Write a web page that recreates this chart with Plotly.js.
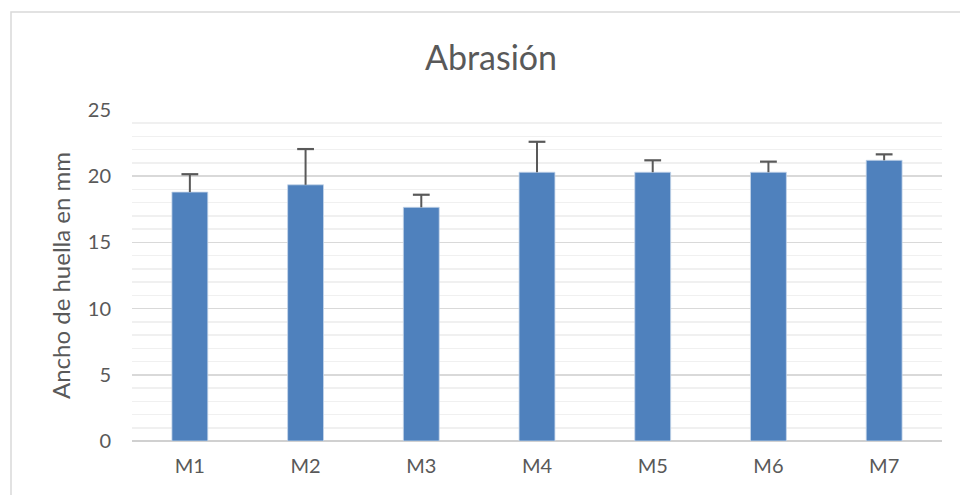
<!DOCTYPE html>
<html>
<head>
<meta charset="utf-8">
<script src="https://cdn.plot.ly/plotly-3.0.1.min.js"></script>
<style>
  html, body { margin: 0; padding: 0; background: #fff; }
  #chart { width: 960px; height: 495px; }
</style>
</head>
<body>
<div id="chart"></div>
<script>
const categories = ["M1", "M2", "M3", "M4", "M5", "M6", "M7"];
const values = [18.8, 19.35, 17.65, 20.3, 20.3, 20.3, 21.2];
const errorsPlus = [1.35, 2.7, 0.95, 2.3, 0.9, 0.8, 0.45];
const yTickVals = [0, 5, 10, 15, 20, 25];

const textColor = "#595959";
const fontFamily = "Lato, 'Open Sans', sans-serif";
const errColor = "#595959";

const barTrace = {
  type: "bar",
  x: categories,
  y: values,
  marker: { color: "#4F81BD", line: { color: "#c5d5ea", width: 0.8 } },
  error_y: {
    type: "data",
    symmetric: false,
    array: errorsPlus,
    arrayminus: errorsPlus.map(() => 0),
    color: errColor,
    thickness: 2,
    width: 0
  },
  hoverinfo: "x+y"
};

// caps on top of the (plus-only) error bars
const capTrace = {
  type: "scatter",
  mode: "markers",
  x: categories,
  y: values.map((v, i) => v + errorsPlus[i]),
  marker: { symbol: "line-ew", size: 12, line: { color: errColor, width: 2.2 } },
  hoverinfo: "skip"
};

const layout = {
  width: 960,
  height: 495,
  paper_bgcolor: "#ffffff",
  plot_bgcolor: "#ffffff",
  margin: { l: 132, r: 18, t: 110, b: 54 },
  showlegend: false,
  bargap: 0.69,
  font: { family: fontFamily, color: textColor },
  title: {
    text: "Abrasión",
    font: { family: fontFamily, size: 34, color: textColor },
    x: 491 / 960, xanchor: "center", xref: "container",
    y: 1 - 58 / 495, yanchor: "middle",
    yref: "container"
  },
  xaxis: {
    type: "category",
    showgrid: false,
    showline: false,
    zeroline: false,
    ticks: "",
    tickfont: { family: fontFamily, size: 20, color: textColor },
    ticklabelstandoff: 11
  },
  yaxis: {
    range: [0, 25],
    tickvals: yTickVals,
    ticktext: yTickVals.map(String),
    showgrid: true,
    gridcolor: "#d9d9d9",
    gridwidth: 1.5,
    zeroline: true,
    zerolinecolor: "#d0d0d0",
    zerolinewidth: 2,
    showline: false,
    ticks: "",
    tickfont: { family: fontFamily, size: 20, color: textColor },
    ticklabelstandoff: 20,
    minor: { dtick: 1, showgrid: true, gridcolor: "#f0f0f0", gridwidth: 1.5, ticks: "" },
    title: {
      text: "Ancho de huella en mm",
      font: { family: fontFamily, size: 24, color: textColor },
      standoff: 10
    },
    automargin: false
  },
  shapes: [{
    type: "rect",
    xref: "paper", yref: "paper",
    x0: (11 - 132) / 810, x1: 1.2,
    y0: -0.3, y1: (441 - 12) / 331,
    line: { color: "#d9d9d9", width: 1.5 },
    fillcolor: "rgba(0,0,0,0)",
    layer: "below"
  }]
};

Plotly.newPlot("chart", [barTrace, capTrace], layout, { displayModeBar: false, staticPlot: true });
</script>
</body>
</html>
